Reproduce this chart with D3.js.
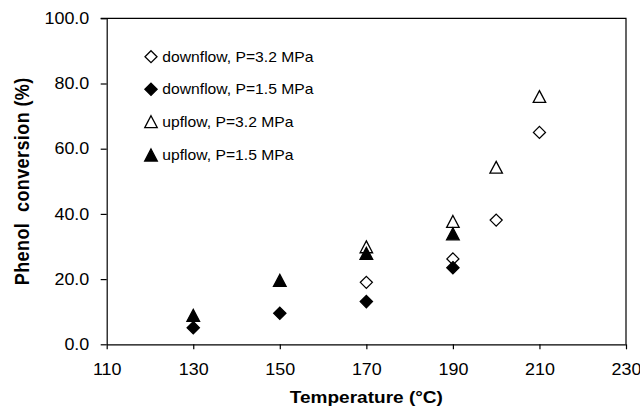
<!DOCTYPE html>
<html>
<head>
<meta charset="utf-8">
<script src="https://cdn.jsdelivr.net/npm/d3@7"></script>
<style>
  html, body { margin: 0; padding: 0; background: #fff; }
  svg { display: block; font-family: "Liberation Sans", Arial, sans-serif; }
</style>
</head>
<body>
<svg id="chart" width="640" height="409"></svg>
<script>
// ---- data ----
const xTicks = [110, 130, 150, 170, 190, 210, 230];
const yTicks = [0, 20, 40, 60, 80, 100];

const downflow32T = [170, 190, 200, 210];
const downflow32V = [19.0, 26.2, 38.1, 65.0];

const downflow15T = [130, 150, 170, 190];
const downflow15V = [5.1, 9.5, 13.1, 23.5];

const upflow32T = [170, 190, 200, 210];
const upflow32V = [29.9, 37.7, 54.3, 76.0];

const upflow15T = [130, 150, 170, 190];
const upflow15V = [8.9, 19.6, 27.9, 33.9];

const seriesNames = ["downflow, P=3.2 MPa", "downflow, P=1.5 MPa", "upflow, P=3.2 MPa", "upflow, P=1.5 MPa"];
const xTitle = "Temperature (\u00B0C)";
const yTitle = "Phenol  conversion (%)";

// ---- layout ----
const SX = 1.12; // horizontal text stretch seen in the reference
const W = 640, H = 409;
const m = { left: 106.7, right: 14, top: 18.3, bottom: 64.7 };

const svg = d3.select("#chart");
const x = d3.scaleLinear().domain([110, 230]).range([m.left, W - m.right]);
const y = d3.scaleLinear().domain([0, 100]).range([H - m.bottom, m.top]);

// custom symbols: rotated square (diamond) and bbox-centred triangle
const diamondType = {
  draw(ctx, size) {
    const r = Math.sqrt(size) / 2;
    ctx.moveTo(0, -r); ctx.lineTo(r, 0); ctx.lineTo(0, r); ctx.lineTo(-r, 0); ctx.closePath();
  }
};
const triangleType = {
  draw(ctx, size) {
    const w = Math.sqrt(size);
    const h = w * 0.95;
    ctx.moveTo(0, -h / 2); ctx.lineTo(w / 2, h / 2); ctx.lineTo(-w / 2, h / 2); ctx.closePath();
  }
};

const series = [
  { name: seriesNames[0], t: downflow32T, v: downflow32V, type: diamondType, size: 144, filled: false },
  { name: seriesNames[1], t: downflow15T, v: downflow15V, type: diamondType, size: 150, filled: true },
  { name: seriesNames[2], t: upflow32T, v: upflow32V, type: triangleType, size: 156, filled: false },
  { name: seriesNames[3], t: upflow15T, v: upflow15V, type: triangleType, size: 160, filled: true }
];

function stretchText(sel) {
  sel.each(function () {
    const t = d3.select(this);
    const tx = +t.attr("x") || 0;
    t.attr("x", 0).attr("transform", `translate(${tx},0) scale(${SX},1)`);
  });
}

// frame (top + right)
svg.append("path")
  .attr("d", `M${x(110) - 6},${y(100)}H${x(230)}V${y(0)}`)
  .attr("fill", "none").attr("stroke", "#000").attr("stroke-width", 1.2);

// y axis
const yAxis = svg.append("g")
  .attr("transform", `translate(${x(110)},0)`)
  .call(d3.axisLeft(y).tickValues(yTicks).tickFormat(d3.format(".1f")).tickSize(6).tickSizeOuter(0).tickPadding(11.4));
yAxis.selectAll("text").attr("font-size", 16).attr("fill", "#000").attr("font-family", null);
yAxis.selectAll("line,path").attr("stroke", "#000").attr("stroke-width", 1.2);
stretchText(yAxis.selectAll("text"));

// x axis
const xAxis = svg.append("g")
  .attr("transform", `translate(0,${y(0)})`)
  .call(d3.axisBottom(x).tickValues(xTicks).tickFormat(d3.format("d")).tickSize(5).tickSizeOuter(0));
xAxis.selectAll("text").attr("font-size", 16).attr("fill", "#000").attr("font-family", null)
  .attr("dy", null).attr("y", 31);
xAxis.selectAll("line,path").attr("stroke", "#000").attr("stroke-width", 1.2);
stretchText(xAxis.selectAll("text"));

// axis titles
svg.append("text")
  .attr("text-anchor", "middle").attr("font-weight", "bold").attr("font-size", 17)
  .attr("transform", `translate(${(x(110) + x(230)) / 2},403) scale(${SX},1)`)
  .text(xTitle);

svg.append("text")
  .attr("text-anchor", "middle").attr("font-weight", "bold").attr("font-size", 18)
  .attr("letter-spacing", 0.4)
  .style("white-space", "pre")
  .attr("transform", `translate(29,${(y(0) + y(100)) / 2}) rotate(-90) scale(1,${SX})`)
  .text(yTitle);

// points
const sym = d3.symbol();
series.forEach(s => {
  svg.append("g").selectAll("path")
    .data(s.t.map((t, i) => ({ t, v: s.v[i] })))
    .join("path")
    .attr("transform", d => `translate(${x(d.t)},${y(d.v)})`)
    .attr("d", sym.type(s.type).size(s.size)())
    .attr("fill", s.filled ? "#000" : "#fff")
    .attr("stroke", "#000")
    .attr("stroke-width", 1.3);
});

// legend
const legendY = [56.7, 89.3, 121.7, 155];
const leg = svg.append("g");
series.forEach((s, i) => {
  leg.append("path")
    .attr("transform", `translate(151,${legendY[i]})`)
    .attr("d", sym.type(s.type).size(s.size)())
    .attr("fill", s.filled ? "#000" : "#fff")
    .attr("stroke", "#000").attr("stroke-width", 1.3);
  leg.append("text")
    .attr("font-size", 14)
    .attr("transform", `translate(162.3,${legendY[i] + 5}) scale(${SX},1)`)
    .text(s.name);
});
</script>
</body>
</html>
